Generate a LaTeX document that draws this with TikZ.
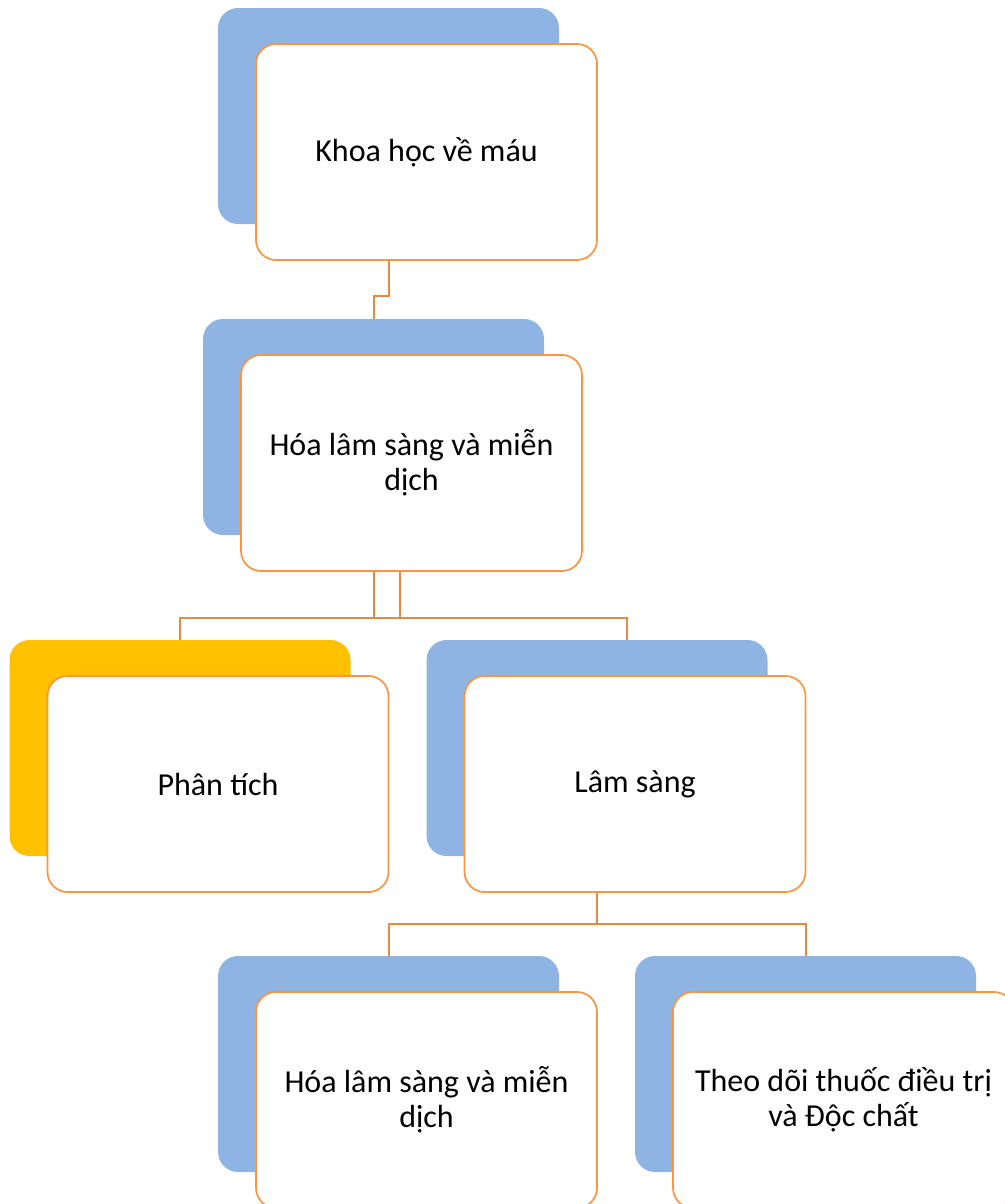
\documentclass[tikz,border=0pt]{standalone}
\usepackage{fontspec}
\setmainfont{Carlito}
\usepackage{tikz}
\usetikzlibrary{positioning, calc}
\definecolor{smartblue}{RGB}{142,180,227}
\definecolor{smartgold}{RGB}{255,192,0}
\definecolor{smartorange}{RGB}{247,150,70}
\definecolor{linkorange}{RGB}{230,138,66}

\begin{document}
\begin{tikzpicture}[
    x=0.75pt, y=-0.75pt,
    back/.style={rectangle, rounded corners=15pt, fill=smartblue, minimum width=255.75pt, minimum height=162pt, inner sep=0pt},
    front/.style={rectangle, rounded corners=15pt, draw=smartorange, line width=1.3pt, fill=white, align=center, minimum width=255.75pt, minimum height=162pt, inner sep=0pt, font=\fontsize{24}{26.5}\selectfont},
    link/.style={draw=linkorange, line width=1.5pt}
]
\useasboundingbox (0,0) rectangle (1004,1204);

\node[back] (khoaback) at (388.5,116) {};
\node[front] (khoa) at (426.5,152) {Khoa học về máu};

\node[back] (hoaback) at (373.5,427) {};
\node[front] (hoa) at (411.5,463) {Hóa lâm sàng và miễn\\dịch};

\node[back, fill=smartgold] (phanback) at (180,748) {};
\node[front] (phan) at (218,784) {Phân tích};

\node[back] (lamback) at (597,748) {};
\node[front] (lam) at (635,784) {Lâm sàng};

\node[back] (hoa2back) at (388.5,1064) {};
\node[front] (hoa2) at (426.5,1100) {Hóa lâm sàng và miễn\\dịch};

\node[back] (theoback) at (805.5,1064) {};
\node[front] (theo) at (843.5,1100) {Theo dõi thuốc điều trị\\và Độc chất};

\coordinate (j1) at (0,296);
\coordinate (j2) at (400,618);
\coordinate (j2r) at (627,640);
\coordinate (j3) at (0,924);

\draw[link] (khoaback.south |- khoa.south) -- (khoaback.south |- j1) -| (hoaback.north);
\draw[link] (hoaback.south |- hoa.south) -- (hoaback.south |- j2);
\draw[link] (j2 |- hoa.south) -- (j2);
\draw[link] (phanback.north) |- (j2r |- j2) -- (j2r);
\draw[link] (lamback.south |- lam.south) -- (lamback.south |- j3);
\draw[link] (hoa2back.north) |- (theoback.north |- j3) -- (theoback.north);
\end{tikzpicture}
\end{document}
